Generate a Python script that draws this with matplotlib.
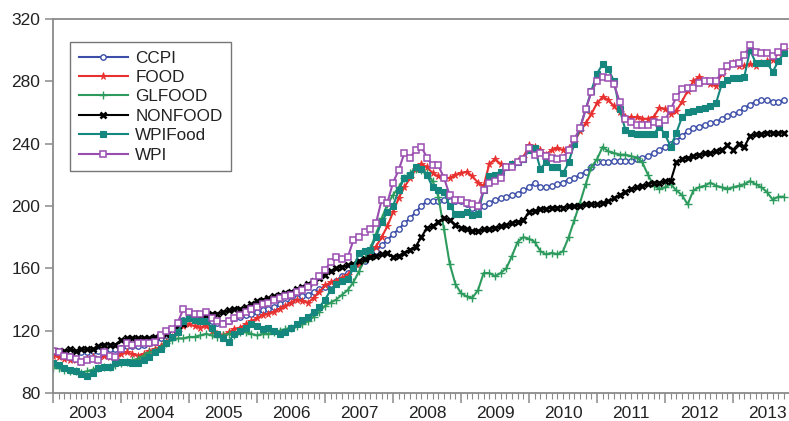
import numpy as np
import matplotlib
matplotlib.use("Agg")
import matplotlib.pyplot as plt
from matplotlib.ticker import FixedLocator, NullFormatter, FuncFormatter

plt.rcParams["font.family"] = ["Liberation Sans", "DejaVu Sans"]

# Monthly index values, Jan 2003 - Oct 2013
ccpi = [106, 105, 104, 104, 105, 106, 106, 107, 107, 108, 108, 108,
        109, 110, 110, 110, 111, 112, 113, 115, 117, 119, 122, 127,
        128, 127, 127, 127, 126, 125, 125, 126, 128, 129, 130, 131,
        132, 133, 134, 135, 137, 138, 139, 141, 142, 143, 145, 147,
        148, 150, 152, 155, 157, 160, 163, 165, 168, 171, 175, 178,
        182, 185, 189, 192, 196, 200, 203, 203, 203, 204, 203, 203,
        203, 201, 199, 198, 200, 202, 204, 205, 206, 207, 208, 210,
        212, 215, 212, 212, 213, 214, 215, 217, 218, 220, 222, 225,
        228, 228, 228, 229, 229, 229, 229, 230, 231, 232, 234, 236,
        238, 240, 242, 245, 248, 250, 251, 252, 253, 254, 256, 258,
        259, 260, 263, 265, 267, 268, 268, 267, 267, 268]

food = [104, 103, 102, 101, 101, 100, 102, 103, 101, 104, 103, 102,
        105, 106, 105, 104, 105, 107, 108, 110, 113, 116, 119, 123,
        124, 123, 122, 123, 120, 118, 117, 119, 121, 122, 124, 126,
        128, 130, 131, 132, 134, 136, 138, 140, 139, 138, 141, 145,
        149, 151, 152, 154, 156, 160, 163, 166, 169, 174, 180, 187,
        196, 205, 212, 218, 224, 227, 225, 221, 219, 218, 218, 220,
        221, 222, 219, 215, 213, 227, 230, 227, 225, 227, 229, 231,
        239, 238, 236, 233, 236, 237, 236, 237, 241, 248, 253, 259,
        266, 270, 268, 264, 260, 257, 257, 257, 256, 256, 257, 263,
        262, 259, 261, 267, 274, 280, 283, 280, 278, 277, 285, 289,
        292, 290, 290, 291, 290, 292, 293, 294, 298, 301]

glfood = [96, 96, 95, 94, 94, 93, 94, 95, 96, 97, 97, 98,
          99, 100, 101, 102, 104, 106, 107, 109, 112, 114, 115, 115,
          116, 116, 117, 118, 117, 116, 117, 118, 117, 119, 119, 118,
          117, 118, 118, 119, 120, 121, 122, 123, 124, 126, 129, 132,
          136, 138, 140, 143, 146, 151, 158, 166, 173, 182, 192, 201,
          207, 212, 218, 221, 224, 223, 221, 216, 206, 185, 163, 150,
          144, 142, 141, 146, 157, 157, 155, 157, 160, 168, 177, 180,
          179, 177, 171, 169, 170, 169, 171, 180, 191, 202, 214, 225,
          230, 238, 235, 234, 233, 233, 232, 231, 228, 220, 213, 211,
          212, 214, 210, 207, 201, 210, 212, 213, 215, 213, 212, 211,
          212, 213, 214, 216, 214, 212, 209, 204, 206, 206]

nonfood = [107, 107, 107, 108, 107, 108, 108, 108, 110, 111, 111, 111,
           114, 115, 115, 115, 115, 115, 116, 117, 118, 121, 123, 124,
           128, 129, 129, 130, 131, 131, 132, 133, 134, 134, 135, 137,
           139, 140, 141, 142, 143, 144, 145, 147, 148, 150, 152, 154,
           156, 158, 160, 161, 162, 163, 165, 166, 167, 168, 169, 170,
           167, 168, 170, 172, 174, 180, 186, 187, 190, 192, 191, 188,
           186, 185, 184, 184, 185, 185, 186, 187, 188, 189, 190, 191,
           196, 197, 198, 198, 199, 199, 199, 200, 200, 200, 201, 201,
           201, 202, 203, 205, 207, 209, 211, 212, 213, 214, 215, 215,
           216, 216, 228, 230, 231, 232, 233, 234, 234, 235, 236, 239,
           236, 240, 238, 245, 246, 246, 247, 247, 247, 247]

wpifood = [99, 98, 96, 95, 94, 92, 91, 93, 96, 97, 97, 99,
           100, 100, 99, 99, 101, 103, 106, 108, 112, 116, 119, 126,
           128, 127, 126, 126, 122, 118, 115, 113, 118, 120, 122, 124,
           123, 121, 122, 120, 118, 119, 122, 124, 127, 129, 132, 135,
           140, 146, 150, 152, 153, 160, 170, 171, 172, 180, 190, 196,
           200, 210, 218, 220, 225, 224, 220, 212, 210, 209, 200, 195,
           195, 196, 194, 195, 210, 219, 220, 222, 225, 227, 228, 230,
           236, 237, 224, 228, 225, 225, 221, 228, 240, 250, 262, 274,
           285, 291, 288, 280, 262, 249, 247, 246, 246, 246, 246, 251,
           246, 238, 247, 257, 260, 261, 262, 263, 264, 266, 278, 281,
           282, 282, 283, 300, 292, 292, 292, 286, 293, 298]

wpi = [107, 106, 104, 103, 102, 100, 101, 102, 101, 106, 104, 103,
       108, 112, 111, 112, 112, 112, 113, 117, 120, 121, 125, 134,
       132, 131, 131, 132, 128, 126, 124, 126, 128, 130, 132, 134,
       135, 137, 138, 140, 141, 142, 143, 145, 146, 148, 151, 155,
       159, 164, 167, 166, 167, 178, 180, 183, 185, 189, 204, 202,
       215, 223, 234, 231, 236, 238, 231, 226, 226, 218, 207, 204,
       204, 202, 201, 200, 210, 215, 216, 218, 225, 225, 228, 230,
       237, 233, 234, 232, 231, 230, 231, 236, 243, 250, 262, 273,
       280, 283, 282, 278, 267, 256, 254, 252, 252, 252, 254, 253,
       255, 262, 270, 275, 276, 276, 279, 280, 280, 280, 286, 290,
       291, 292, 297, 303, 299, 298, 298, 296, 299, 302]

series_names = ["CCPI", "FOOD", "GLFOOD", "NONFOOD", "WPIFood", "WPI"]
years = list(range(2003, 2014))

t = 2003 + np.arange(len(ccpi)) / 12.0

fig = plt.figure(figsize=(7.89, 4.21), dpi=100)
ax = fig.add_axes([53 / 789, 28 / 421, 748 / 789, 374 / 421])

styles = [
    dict(color="#3C4EA8", marker="o", markerfacecolor="white", markeredgecolor="#3C4EA8",
         markersize=3.9, markeredgewidth=1.0),
    dict(color="#E8302F", marker="*", markerfacecolor="#E8302F", markeredgecolor="#E8302F",
         markersize=5.5, markeredgewidth=0.6),
    dict(color="#2E9B5E", marker="+", markersize=5.5, markeredgewidth=1.0),
    dict(color="black", marker="x", markersize=4.2, markeredgewidth=1.9),
    dict(color="#15877E", marker="s", markerfacecolor="#15877E", markeredgecolor="#15877E",
         markersize=4.2, markeredgewidth=0.8),
    dict(color="#9A4DB0", marker="s", markerfacecolor="white", markeredgecolor="#9A4DB0",
         markersize=4.5, markeredgewidth=1.1),
]
data = [ccpi, food, glfood, nonfood, wpifood, wpi]

for name, vals, st in zip(series_names, data, styles):
    ax.plot(t, vals, linewidth=1.5, label=name, **st)

ax.set_xlim(2003, 2014)
ax.set_ylim(80, 320)
ax.set_yticks([80, 120, 160, 200, 240, 280, 320])

# year boundaries as major ticks, months as minor ticks, year labels centred mid-year
ax.xaxis.set_major_locator(FixedLocator(np.arange(2003, 2015)))
ax.xaxis.set_major_formatter(NullFormatter())
ax.xaxis.set_minor_locator(FixedLocator(2003 + np.arange(0, 11 * 12 + 1) / 12.0))


def year_label(x, pos):
    yr = int(np.floor(x + 1e-6))
    if abs((x - yr) - 0.5) < 1e-4 and yr in years:
        return str(yr)
    return ""


ax.xaxis.set_minor_formatter(FuncFormatter(year_label))

spine_col = "#8a8a8a"
for side in ["left", "bottom", "top"]:
    ax.spines[side].set_color(spine_col)
    ax.spines[side].set_linewidth(1.3)
ax.spines["right"].set_visible(False)

ax.tick_params(axis="y", which="major", length=6, width=1.1, color=spine_col,
               labelsize=12.5, pad=3, labelcolor="#222222")
ax.tick_params(axis="x", which="major", length=7, width=1.1, color=spine_col, pad=3)
ax.tick_params(axis="x", which="minor", length=4, width=0.8, color=spine_col,
               labelsize=12.5, pad=5, labelcolor="#222222")

leg = ax.legend(loc="upper left", bbox_to_anchor=(17 / 748, (393 - 42) / 374),
                borderaxespad=0, fancybox=False, frameon=True, fontsize=12.3,
                handlelength=2.9, handletextpad=0.42, labelspacing=0.26,
                borderpad=0.5, edgecolor="#555555")
leg.get_frame().set_linewidth(1.0)
for txt in leg.get_texts():
    txt.set_color("#222222")

fig.savefig("out.png", dpi=100)
